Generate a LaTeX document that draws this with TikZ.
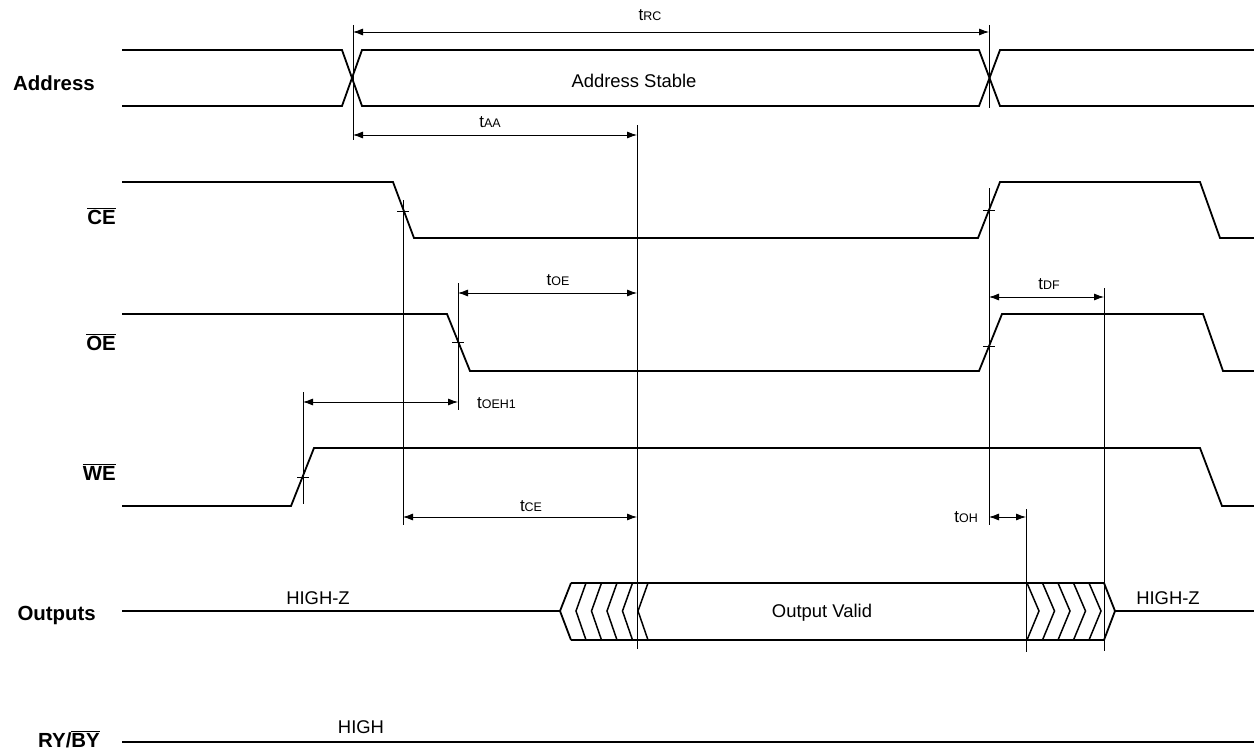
\documentclass[tikz,border=0pt]{standalone}
\usepackage{fontspec}
\setmainfont{Liberation Sans}
\usetikzlibrary{arrows.meta}
\newcommand\tq[1]{t{\fontsize{12.5}{12.5}\selectfont #1}}
\newcommand\ovl[1]{$\overline{\mbox{#1}}$}
\begin{document}
\begin{tikzpicture}[x=1bp,y=-1bp,
  sig/.style={line width=1.8bp, line join=miter},
  hatch/.style={line width=1.5bp, line join=miter},
  dim/.style={line width=0.8bp},
  dimarr/.style={dim,{Latex[length=10bp,width=7bp]}-{Latex[length=10bp,width=7bp]}},
  lbl/.style={font=\fontsize{20.5}{20.5}\selectfont\bfseries, anchor=base east, inner sep=0pt},
  txt/.style={font=\fontsize{18.5}{18.5}\selectfont, inner sep=0pt},
  tl/.style={font=\fontsize{17}{17}\selectfont, inner sep=0pt, anchor=base}]
\useasboundingbox (0,0) rectangle (1254,749);

% ---- signal labels
\node[lbl] (lAddr) at (95,91) {Address};
\node[lbl] (lCE) at (116,224) {\ovl{CE}};
\node[lbl] (lOE) at (116,350) {\ovl{OE}};
\node[lbl] (lWE) at (116,480) {\ovl{WE}};
\node[lbl] (lOut) at (96,620) {Outputs};
\node[lbl] (lRY) at (100,747) {RY/\ovl{BY}};

% ---- Address
\draw[sig] (122,50) -- (342,50) -- (362,106) -- (979,106) -- (1000,50) -- (1254,50);
\draw[sig] (122,106) -- (342,106) -- (362,50) -- (979,50) -- (1000,106) -- (1254,106);
\node[txt] (stable) at (634,81) {Address Stable};

% ---- CE
\draw[sig] (122,182) -- (393,182) -- (414,238) -- (978,238) -- (1000,182) -- (1200,182) -- (1220,238) -- (1254,238);
% ---- OE
\draw[sig] (122,314) -- (447,314) -- (470,371) -- (979,371) -- (1002,314) -- (1203,314) -- (1223,371) -- (1254,371);
% ---- WE
\draw[sig] (122,506) -- (291,506) -- (314,448) -- (1200,448) -- (1222,506) -- (1254,506);

% ---- ticks
\foreach \x/\y in {403/211, 458/342, 989/210, 989/346, 303/477}
  \draw[dim] (\x-6,\y) -- (\x+6,\y);

% ---- Outputs
\draw[sig] (122,611) -- (560,611);
\draw[sig] (571,583) -- (560,611) -- (571,640);
\draw[sig] (571,583) -- (1104,583);
\draw[sig] (571,640) -- (1104,640);
\foreach \t in {576,591.5,607,622.5,638}
  \draw[hatch] (\t+10,583) -- (\t,611) -- (\t+10,640);
\foreach \t in {1027,1042.5,1058,1073.5,1089}
  \draw[hatch] (\t,583) -- (\t+12,611) -- (\t,640);
\draw[sig] (1104,583) -- (1115,611) -- (1104,640);
\draw[sig] (1115,611) -- (1254,611);
\node[txt] (hz1) at (318,598) {HIGH-Z};
\node[txt] (ov) at (822,613) {Output Valid};
\node[txt] (hz2) at (1168,598) {HIGH-Z};

% ---- RY/BY
\draw[sig] (122,742) -- (1254,742);
\node[txt] (hi) at (361,727) {HIGH};

% ---- reference lines
\coordinate (v1a) at (353,25);  \coordinate (v1b) at (353,140);
\coordinate (v2a) at (989,25);  \coordinate (v2b) at (989,108);
\coordinate (v3a) at (637,125); \coordinate (v3b) at (637,649);
\coordinate (v4a) at (403,200); \coordinate (v4b) at (403,525);
\coordinate (v5a) at (458,283); \coordinate (v5b) at (458,410);
\coordinate (v6a) at (303,392); \coordinate (v6b) at (303,504);
\coordinate (v7a) at (1104,288); \coordinate (v7b) at (1104,651);
\coordinate (v8a) at (1026,509); \coordinate (v8b) at (1026,652);
\coordinate (v9a) at (989,188); \coordinate (v9b) at (989,525);
\foreach \i in {1,...,9} \draw[dim] (v\i a) -- (v\i b);

% ---- dimension arrows
\coordinate (rcL) at (353,32);  \coordinate (rcR) at (989,32);
\draw[dimarr] (rcL) -- (rcR);
\node[tl] (tRC) at (650,21) {\tq{RC}};
\coordinate (aaL) at (353,135); \coordinate (aaR) at (637,135);
\draw[dimarr] (aaL) -- (aaR);
\node[tl] (tAA) at (490,127) {\tq{AA}};
\coordinate (oeL) at (458,293); \coordinate (oeR) at (637,293);
\draw[dimarr] (oeL) -- (oeR);
\node[tl] (tOE) at (558,285) {\tq{OE}};
\coordinate (dfL) at (989,297); \coordinate (dfR) at (1104,297);
\draw[dimarr] (dfL) -- (dfR);
\node[tl] (tDF) at (1049,289) {\tq{DF}};
\coordinate (ehL) at (303,402); \coordinate (ehR) at (458,402);
\draw[dimarr] (ehL) -- (ehR);
\node[tl, anchor=base west] (tOEH) at (477,408) {\tq{OEH1}};
\coordinate (ceL) at (403,517); \coordinate (ceR) at (637,517);
\draw[dimarr] (ceL) -- (ceR);
\node[tl] (tCE) at (531,511) {\tq{CE}};
\coordinate (ohL) at (989,517); \coordinate (ohR) at (1026,517);
\draw[dimarr] (ohL) -- (ohR);
\node[tl, anchor=base east] (tOH) at (978,522) {\tq{OH}};
\end{tikzpicture}
\end{document}
